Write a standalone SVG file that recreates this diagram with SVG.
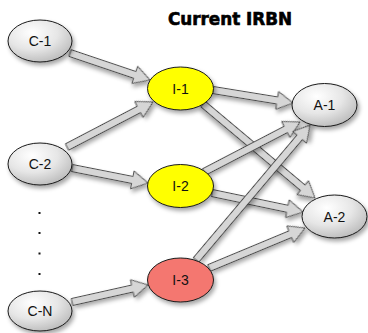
<svg xmlns="http://www.w3.org/2000/svg" width="368" height="333" viewBox="0 0 368 333">
  <defs>
    <radialGradient id="greyFill" cx="0.38" cy="0.3" r="0.8">
      <stop offset="0" stop-color="#ffffff"/>
      <stop offset="0.5" stop-color="#e6e6e6"/>
      <stop offset="1" stop-color="#b4b4b4"/>
    </radialGradient>
    <filter id="shadow" x="-20%" y="-20%" width="150%" height="160%">
      <feDropShadow dx="2" dy="3" stdDeviation="2" flood-color="#000" flood-opacity="0.35"/>
    </filter>
  </defs>
  <style>
    .node ellipse { stroke: #1a1a1a; stroke-width: 1; filter: url(#shadow); }
    .grey { fill: url(#greyFill); }
    .yellow { fill: #ffff00; }
    .red { fill: #f4776f; }
    .label { font-family: "Liberation Sans", Arial, sans-serif; font-size: 14px; fill: #111; text-anchor: middle; }
    .arrow { fill: #d6d6d6; stroke: #4a4a4a; stroke-width: 1; stroke-linejoin: miter; filter: url(#shadow); }
    .title { font-family: "DejaVu Sans", sans-serif; font-weight: 900; font-stretch: condensed; font-size: 18px; fill: #000; stroke: #000; stroke-width: 0.6; }
    .dot { fill: #111; }
  </style>

  <text class="title" x="168" y="25" textLength="124" lengthAdjust="spacingAndGlyphs">Current IRBN</text>

  <!-- connectors: hollow block arrows, local frame along +x then rotated -->
  <g id="connectors">
    <path class="arrow" transform="translate(70,53) rotate(18.65)" d="M0,-3.5 H68.4 V-9 L84.4,0 L68.4,9 V3.5 H0 Z"/>
    <path class="arrow" transform="translate(67,147) rotate(-27.6)" d="M0,-3.5 H81.1 V-9 L97.1,0 L81.1,9 V3.5 H0 Z"/>
    <path class="arrow" transform="translate(72,168) rotate(11.17)" d="M0,-3.5 H61.5 V-9 L77.5,0 L61.5,9 V3.5 H0 Z"/>
    <path class="arrow" transform="translate(72,302) rotate(-12.6)" d="M0,-3.5 H61.9 V-9 L77.9,0 L61.9,9 V3.5 H0 Z"/>
    <path class="arrow" transform="translate(213,90) rotate(9.23)" d="M0,-3.5 H65 V-9 L81,0 L65,9 V3.5 H0 Z"/>
    <path class="arrow" transform="translate(203,104) rotate(40)" d="M0,-3.5 H130.2 V-9 L146.2,0 L130.2,9 V3.5 H0 Z"/>
    <path class="arrow" transform="translate(204,172) rotate(-27.5)" d="M0,-3.5 H92.2 V-9 L108.2,0 L92.2,9 V3.5 H0 Z"/>
    <path class="arrow" transform="translate(212,193) rotate(11.8)" d="M0,-3.5 H77 V-9 L93,0 L77,9 V3.5 H0 Z"/>
    <path class="arrow" transform="translate(196,260) rotate(-49.8)" d="M0,-3.5 H160.7 V-9 L176.7,0 L160.7,9 V3.5 H0 Z"/>
    <path class="arrow" transform="translate(209,268) rotate(-22.6)" d="M0,-3.5 H88 V-9 L104,0 L88,9 V3.5 H0 Z"/>
  </g>

  <g id="C-1" class="node">
    <ellipse class="grey" cx="40" cy="41" rx="32" ry="21"/>
    <text class="label" x="40" y="46">C-1</text>
  </g>
  <g id="C-2" class="node">
    <ellipse class="grey" cx="40" cy="164" rx="32" ry="21"/>
    <text class="label" x="40" y="169">C-2</text>
  </g>
  <g id="C-N" class="node">
    <ellipse class="grey" cx="40" cy="311" rx="32" ry="20"/>
    <text class="label" x="40" y="316">C-N</text>
  </g>
  <g id="I-1" class="node">
    <ellipse class="yellow" cx="180.5" cy="88.5" rx="33" ry="21.5"/>
    <text class="label" x="180.5" y="93.5">I-1</text>
  </g>
  <g id="I-2" class="node">
    <ellipse class="yellow" cx="180.5" cy="186" rx="33" ry="21.5"/>
    <text class="label" x="180.5" y="191">I-2</text>
  </g>
  <g id="I-3" class="node">
    <ellipse class="red" cx="180.5" cy="280" rx="33" ry="22"/>
    <text class="label" x="180.5" y="285">I-3</text>
  </g>
  <g id="A-1" class="node">
    <ellipse class="grey" cx="324.5" cy="105" rx="32.5" ry="21.5"/>
    <text class="label" x="324.5" y="110">A-1</text>
  </g>
  <g id="A-2" class="node">
    <ellipse class="grey" cx="334.5" cy="216.5" rx="32.5" ry="21.5"/>
    <text class="label" x="334.5" y="221.5">A-2</text>
  </g>

  <!-- vertical ellipsis between C-2 and C-N -->
  <g id="ellipsis">
    <rect class="dot" x="38.5" y="212" width="2" height="2"/>
    <rect class="dot" x="38.5" y="232" width="2" height="2"/>
    <rect class="dot" x="38.5" y="252.5" width="2" height="2"/>
    <rect class="dot" x="38.5" y="273" width="2" height="2"/>
  </g>
</svg>
